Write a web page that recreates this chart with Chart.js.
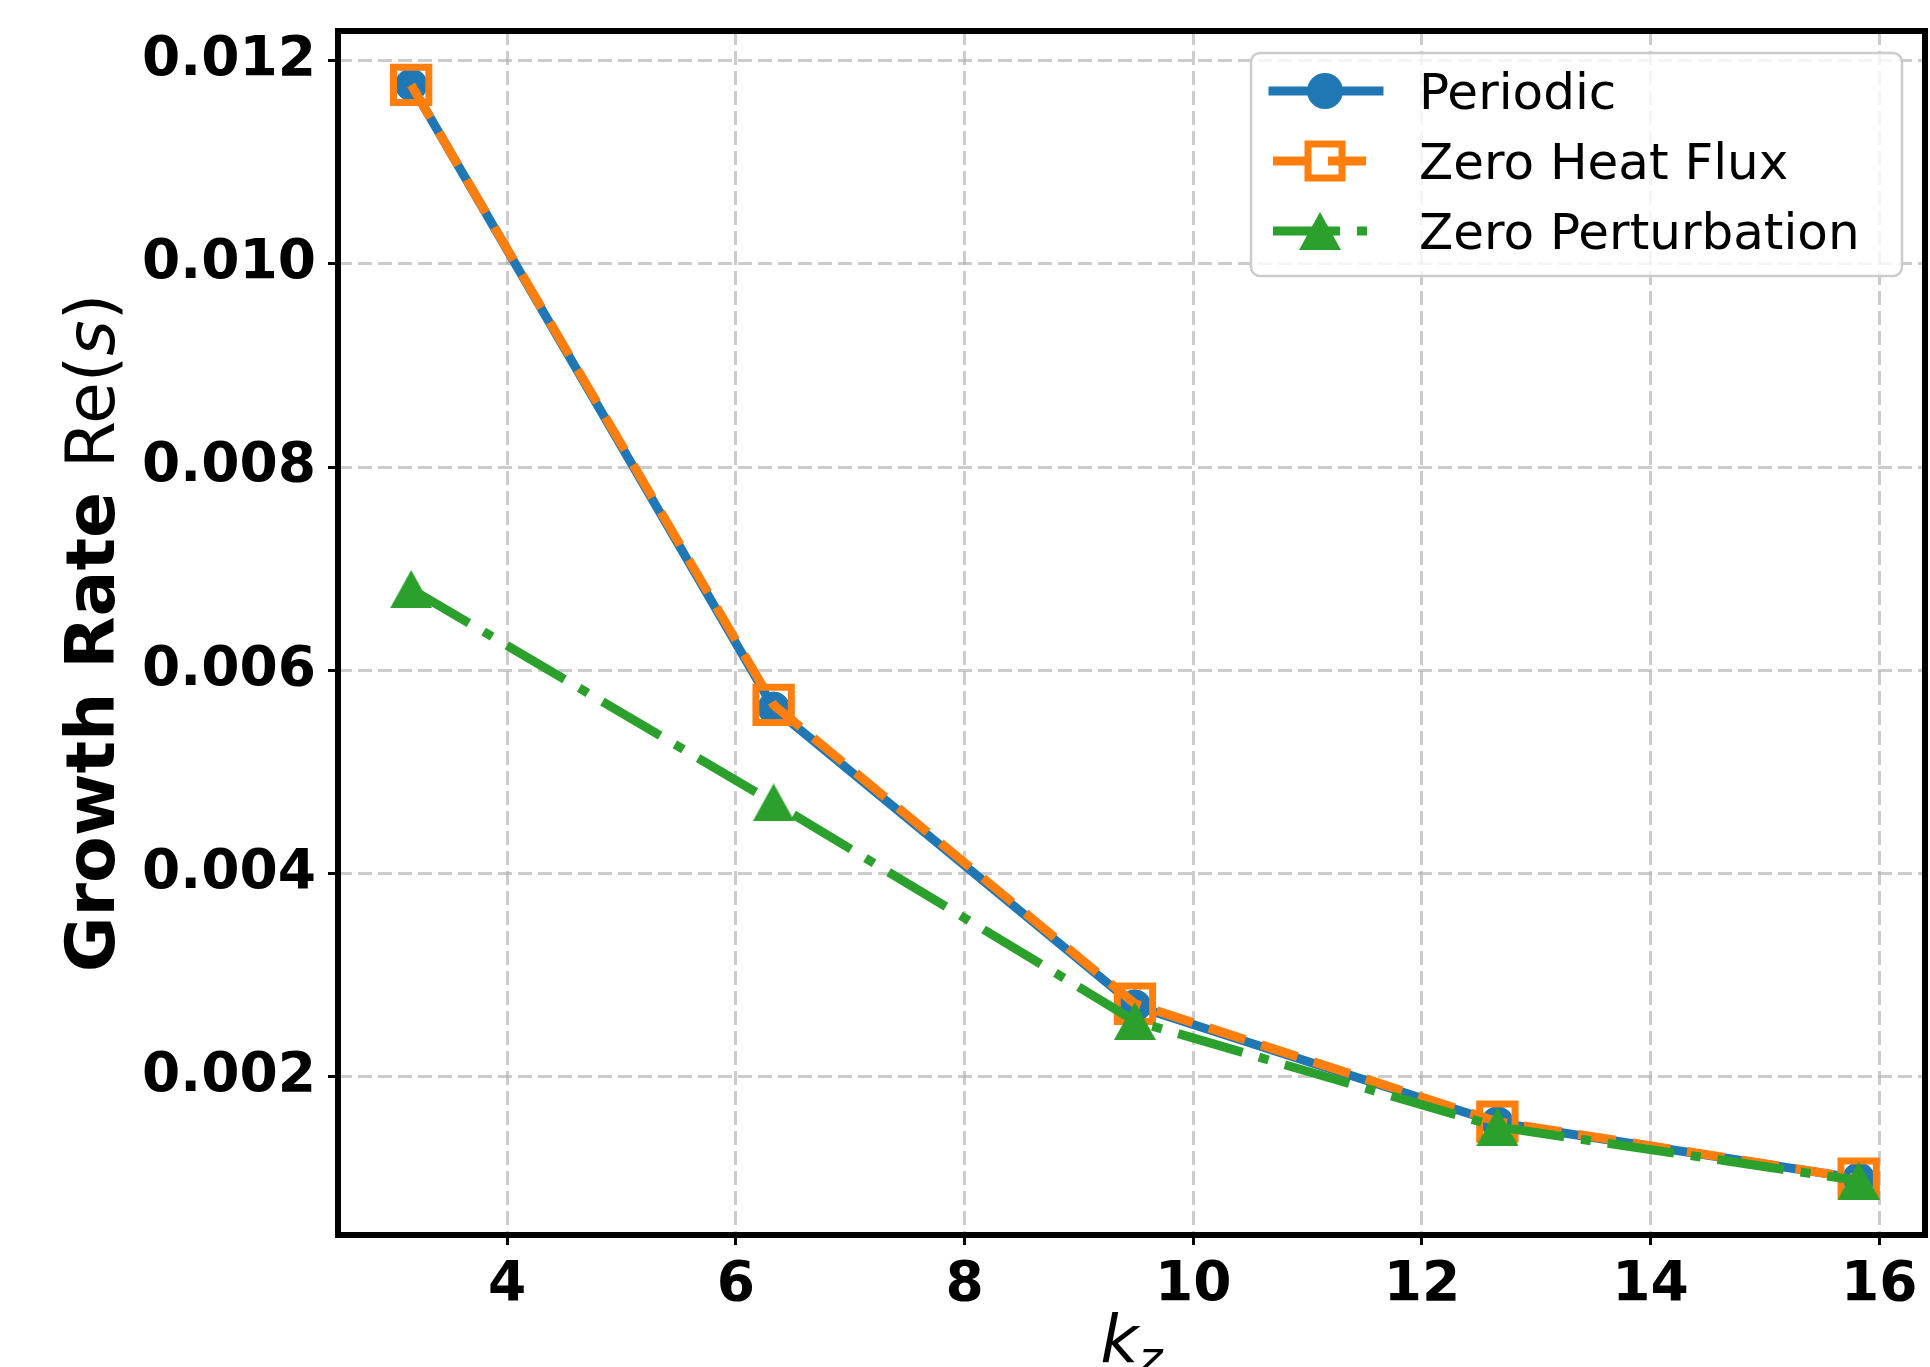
<!DOCTYPE html>
<html>
<head>
<meta charset="utf-8">
<script src="https://cdn.jsdelivr.net/npm/chart.js@4"></script>
<style>
  html, body { margin: 0; padding: 0; background: #fff; }
  #growthChart { display: block; }
</style>
</head>
<body>
<canvas id="growthChart" width="1930" height="1367"></canvas>
<script>
// values
var kz = [3.16, 6.33, 9.49, 12.66, 15.82];
var periodic = [0.01176, 0.00563, 0.00270, 0.00155, 0.00100];
var zeroHeatFlux = [0.01176, 0.00566, 0.00272, 0.00156, 0.00100];
var zeroPerturbation = [0.00680, 0.00470, 0.00255, 0.00151, 0.00098];
var seriesNames = ['Periodic', 'Zero Heat Flux', 'Zero Perturbation'];
var xTicks = [4, 6, 8, 10, 12, 14, 16];
var yTicks = [0.002, 0.004, 0.006, 0.008, 0.010, 0.012];

var BLUE = '#1f77b4', ORANGE = '#ff7f0e', GREEN = '#2ca02c';
var FONT = 'DejaVu Sans';

function toPoints(ys) {
  return kz.map(function (x, i) { return {x: x, y: ys[i]}; });
}

// matplotlib style '^' marker: triangle centred on its bounding box
function triangleMarker(color, w, h) {
  var c = document.createElement('canvas');
  c.width = w; c.height = h;
  var g = c.getContext('2d');
  g.fillStyle = color;
  g.beginPath();
  g.moveTo(w / 2, 0);
  g.lineTo(w, h);
  g.lineTo(0, h);
  g.closePath();
  g.fill();
  return c;
}
var triImg = triangleMarker(GREEN, 42, 38);

function drawPieces(ctx, pieces, x, y) {
  pieces.forEach(function (p) {
    ctx.font = p.font;
    ctx.fillText(p.text, x, y + (p.dy || 0));
    x += ctx.measureText(p.text).width;
  });
}
function piecesWidth(ctx, pieces) {
  var w = 0;
  pieces.forEach(function (p) { ctx.font = p.font; w += ctx.measureText(p.text).width; });
  return w;
}

var decorations = {
  id: 'decorations',
  afterDatasetsDraw: function (chart) {
    var ctx = chart.ctx, a = chart.chartArea;
    ctx.save();
    ctx.lineWidth = 6;
    ctx.strokeStyle = '#000';
    ctx.strokeRect(a.left, a.top, a.right - a.left, a.bottom - a.top);
    ctx.restore();
  },
  afterDraw: function (chart) {
    var ctx = chart.ctx, a = chart.chartArea;
    ctx.save();
    ctx.fillStyle = '#000';
    ctx.textBaseline = 'alphabetic';

    // y title: Growth Rate Re(s)
    var yPieces = [
      {text: 'Growth Rate ', font: 'bold 68px ' + FONT},
      {text: 'Re(', font: '68px ' + FONT},
      {text: 's', font: 'italic 68px ' + FONT},
      {text: ')', font: '68px ' + FONT}
    ];
    var cy = (a.top + a.bottom) / 2;
    ctx.save();
    ctx.translate(114, cy);
    ctx.rotate(-Math.PI / 2);
    drawPieces(ctx, yPieces, -piecesWidth(ctx, yPieces) / 2, 0);
    ctx.restore();

    // x title: k_z
    var xPieces = [
      {text: 'k', font: 'italic 66px ' + FONT},
      {text: 'z', font: 'italic 46px ' + FONT, dy: 12}
    ];
    var cx = (a.left + a.right) / 2;
    drawPieces(ctx, xPieces, cx - piecesWidth(ctx, xPieces) / 2, 1362);

    // legend box
    var bx = a.right - 674, by = a.top + 22, bw = 651, bh = 223, r = 9;
    ctx.beginPath();
    ctx.moveTo(bx + r, by);
    ctx.arcTo(bx + bw, by, bx + bw, by + bh, r);
    ctx.arcTo(bx + bw, by + bh, bx, by + bh, r);
    ctx.arcTo(bx, by + bh, bx, by, r);
    ctx.arcTo(bx, by, bx + bw, by, r);
    ctx.closePath();
    ctx.fillStyle = 'rgba(255,255,255,0.8)';
    ctx.fill();
    ctx.lineWidth = 2.5;
    ctx.strokeStyle = '#cccccc';
    ctx.stroke();

    var x0 = bx + 22, x1 = bx + 128, mx = bx + 74, tx = bx + 168;
    chart.data.datasets.forEach(function (ds, i) {
      var ry = by + 38 + i * 70;
      ctx.save();
      ctx.strokeStyle = ds.borderColor;
      ctx.lineWidth = ds.borderWidth;
      ctx.setLineDash(ds.borderDash || []);
      ctx.lineCap = ds.borderDash ? 'butt' : 'square';
      ctx.beginPath();
      ctx.moveTo(x0, ry);
      ctx.lineTo(x1, ry);
      ctx.stroke();
      ctx.setLineDash([]);
      if (ds.pointStyle === 'circle') {
        ctx.fillStyle = ds.pointBackgroundColor;
        ctx.beginPath();
        ctx.arc(mx, ry, 18, 0, Math.PI * 2);
        ctx.fill();
      } else if (ds.pointStyle === 'rect') {
        ctx.lineWidth = ds.pointBorderWidth;
        ctx.strokeStyle = ds.pointBorderColor;
        ctx.strokeRect(mx - 17, ry - 17, 34, 34);
      } else {
        ctx.drawImage(ds.pointStyle, mx - 5 - ds.pointStyle.width / 2, ry - ds.pointStyle.height / 2);
      }
      ctx.restore();
      ctx.fillStyle = '#000';
      ctx.font = '50px ' + FONT;
      ctx.fillText(ds.label, tx, ry + 18);
    });
    ctx.restore();
  }
};

var tickFont = {family: FONT, weight: 'bold', size: 55};
var gridOpts = {
  color: 'rgba(176,176,176,0.65)',
  lineWidth: 3,
  tickColor: '#000',
  tickWidth: 3,
  tickLength: 10
};

new Chart(document.getElementById('growthChart'), {
  type: 'line',
  data: {
    datasets: [
      {
        label: seriesNames[0],
        data: toPoints(periodic),
        borderColor: BLUE,
        backgroundColor: BLUE,
        borderWidth: 9,
        pointStyle: 'circle',
        pointRadius: 16,
        pointBorderWidth: 1,
        pointBackgroundColor: BLUE,
        pointBorderColor: BLUE,
        order: 3
      },
      {
        label: seriesNames[1],
        data: toPoints(zeroHeatFlux),
        borderColor: ORANGE,
        backgroundColor: ORANGE,
        borderWidth: 9,
        borderDash: [38, 17],
        pointStyle: 'rect',
        pointRadius: 25,
        pointBorderWidth: 7,
        pointBackgroundColor: 'rgba(0,0,0,0)',
        pointBorderColor: ORANGE,
        order: 2
      },
      {
        label: seriesNames[2],
        data: toPoints(zeroPerturbation),
        borderColor: GREEN,
        backgroundColor: GREEN,
        borderWidth: 9,
        borderDash: [67, 17, 10, 17],
        pointStyle: triImg,
        pointRadius: 20,
        order: 1
      }
    ]
  },
  options: {
    responsive: false,
    animation: false,
    devicePixelRatio: 1,
    events: [],
    elements: { line: { tension: 0, borderCapStyle: 'butt', borderJoinStyle: 'round' } },
    layout: { autoPadding: false, padding: {top: 31, right: 5, left: 0, bottom: 0} },
    plugins: { legend: {display: false}, tooltip: {enabled: false} },
    scales: {
      x: {
        type: 'linear',
        min: 2.52,
        max: 16.40,
        afterFit: function (s) { s.height = 132; s.paddingLeft = 0; s.paddingRight = 0; },
        afterBuildTicks: function (s) { s.ticks = xTicks.map(function (v) { return {value: v}; }); },
        grid: gridOpts,
        border: {display: false, dash: [14, 6]},
        ticks: {
          color: '#000', font: tickFont, padding: 8, maxRotation: 0, autoSkip: false,
          callback: function (v) { return String(v); }
        }
      },
      y: {
        type: 'linear',
        min: 0.000445,
        max: 0.01229,
        afterFit: function (s) { s.width = 338; s.paddingTop = 0; s.paddingBottom = 0; },
        afterBuildTicks: function (s) { s.ticks = yTicks.map(function (v) { return {value: v}; }); },
        grid: gridOpts,
        border: {display: false, dash: [14, 6]},
        ticks: {
          color: '#000', font: tickFont, padding: 12, autoSkip: false,
          callback: function (v) { return v.toFixed(3); }
        }
      }
    }
  },
  plugins: [decorations]
});
</script>
</body>
</html>
